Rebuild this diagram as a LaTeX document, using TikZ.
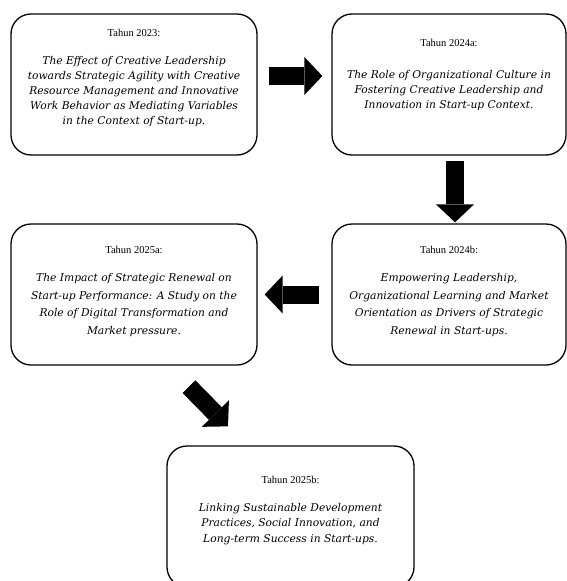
\documentclass[tikz,border=0pt]{standalone}
\usepackage{fontspec}
\setmainfont{Liberation Serif}
\newfontfamily\bodyfont{DejaVu Serif}
\usetikzlibrary{positioning,calc,arrows.meta}

\newcommand{\tahun}[1]{{\rmfamily\upshape\fontsize{10.5}{12}\selectfont Tahun #1:}}

\tikzset{
  card/.style={draw, line width=1.3pt, rounded corners=20pt, inner sep=0pt},
  cardtext/.style={align=center, inner sep=0pt},
  fatarrow/.style={line width=18pt, -{Triangle[length=18pt, width=38pt, line width=0pt]}}
}

\begin{document}
\begin{tikzpicture}[x=1pt, y=-1pt]
  \clip (0,0) rectangle (567,581);
  % boxes
  \node[card, minimum width=246pt, minimum height=141pt] (b23) at (134,84.5) {};
  \node[card, minimum width=234pt, minimum height=141pt] (b24a) at (449,84.5) {};
  \node[card, minimum width=234pt, minimum height=141pt] (b24b) at (449,294.5) {};
  \node[card, minimum width=246pt, minimum height=141pt] (b25a) at (134,294.5) {};
  \node[card, minimum width=247pt, minimum height=141pt] (b25b) at (290.5,516.5) {};

  % texts
  \node[cardtext, below=15.5pt of b23.north, font={\bodyfont\itshape\fontsize{10.7}{15}\selectfont}] (t23)
    {\tahun{2023}\\[13pt]
     The Effect of Creative Leadership\\towards Strategic Agility with Creative\\
     Resource Management and Innovative\\Work Behavior as Mediating Variables\\
     in the Context of Start-up.};
  \node[cardtext, below=25.5pt of b24a.north, font={\bodyfont\itshape\fontsize{10.7}{15}\selectfont}] (t24a)
    {\tahun{2024a}\\[17pt]
     The Role of Organizational Culture in\\Fostering Creative Leadership and\\
     Innovation in Start-up Context.};
  \node[cardtext, below=23pt of b24b.north, font={\bodyfont\itshape\fontsize{10.7}{17.5}\selectfont}] (t24b)
    {\tahun{2024b}\\[10.5pt]
     Empowering Leadership,\\Organizational Learning and Market\\
     Orientation as Drivers of Strategic\\Renewal in Start-ups.};
  \node[cardtext, below=23pt of b25a.north, font={\bodyfont\itshape\fontsize{10.7}{17.5}\selectfont}] (t25a)
    {\tahun{2025a}\\[10.5pt]
     The Impact of Strategic Renewal on\\Start-up Performance: A Study on the\\
     Role of Digital Transformation and\\Market pressure.};
  \node[cardtext, below=30.5pt of b25b.north, font={\bodyfont\itshape\fontsize{10.7}{15.5}\selectfont}] (t25b)
    {\tahun{2025b}\\[12.5pt]
     Linking Sustainable Development\\Practices, Social Innovation, and\\
     Long-term Success in Start-ups.};

  % arrows
  \draw[fatarrow] ($(b23.east)+(11,-8.5)$) -- ($(b24a.west)+(-9,-8.5)$);
  \draw[fatarrow] ($(b24a.south)+(6,5)$) -- ($(b24b.north)+(6,-1)$);
  \draw[fatarrow] ($(b24b.west)+(-12,0)$) -- ($(b25a.east)+(7,0)$);
  \draw[fatarrow] ($(b25a.south)+(55,21)$) -- ($(b25b.north)+(-62.5,-19)$);
\end{tikzpicture}
\end{document}
